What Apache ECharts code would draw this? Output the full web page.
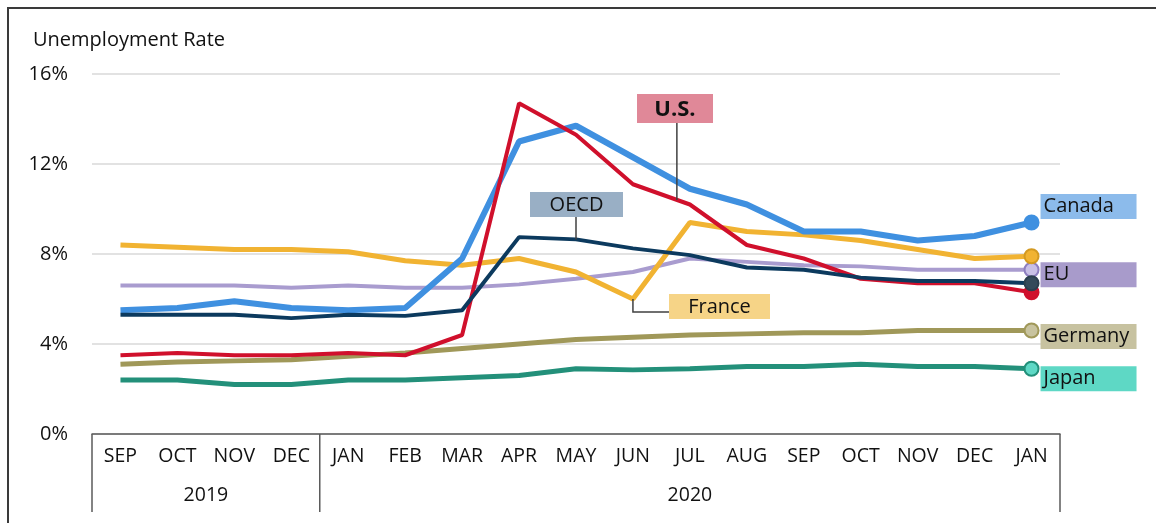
<!DOCTYPE html>
<html>
<head>
<meta charset="utf-8">
<script src="https://cdn.jsdelivr.net/npm/echarts@6/dist/echarts.min.js"></script>
<style>
  html, body { margin: 0; padding: 0; background: #fff; }
  #chart { width: 1156px; height: 523px; }
</style>
</head>
<body>
<div id="chart"></div>
<script>
// months Sep 2019 .. Jan 2021
const months = ['SEP', 'OCT', 'NOV', 'DEC', 'JAN', 'FEB', 'MAR', 'APR', 'MAY', 'JUN', 'JUL', 'AUG', 'SEP', 'OCT', 'NOV', 'DEC', 'JAN']
const years = ['2019', '2020']
const yearStarts = [0, 4]
const yTicks = [0, 4, 8, 12, 16]

const canada  = [5.5, 5.6, 5.9, 5.6, 5.5, 5.6, 7.8, 13.0, 13.7, 12.3, 10.9, 10.2, 9.0, 9.0, 8.6, 8.8, 9.4]
const us      = [3.5, 3.6, 3.5, 3.5, 3.6, 3.5, 4.4, 14.7, 13.3, 11.1, 10.2, 8.4, 7.8, 6.9, 6.7, 6.7, 6.3]
const oecd    = [5.3, 5.3, 5.3, 5.15, 5.3, 5.25, 5.5, 8.75, 8.65, 8.25, 7.95, 7.4, 7.3, 6.95, 6.8, 6.8, 6.7]
const france  = [8.4, 8.3, 8.2, 8.2, 8.1, 7.7, 7.5, 7.8, 7.2, 6.0, 9.4, 9.0, 8.85, 8.6, 8.2, 7.8, 7.9]
const eu      = [6.6, 6.6, 6.6, 6.5, 6.6, 6.5, 6.5, 6.65, 6.9, 7.2, 7.8, 7.65, 7.5, 7.45, 7.3, 7.3, 7.3]
const germany = [3.1, 3.2, 3.25, 3.3, 3.45, 3.6, 3.8, 4.0, 4.2, 4.3, 4.4, 4.45, 4.5, 4.5, 4.6, 4.6, 4.6]
const japan   = [2.4, 2.4, 2.2, 2.2, 2.4, 2.4, 2.5, 2.6, 2.9, 2.85, 2.9, 3.0, 3.0, 3.1, 3.0, 3.0, 2.9]

const FONT = 'Open Sans'
const TXT = '#111'
const last = months.length - 1

const chart = echarts.init(document.getElementById('chart'))

const makeSeries = (name, data, color, width, fill, border, labelBg, labelDy, showLabel) => ({
  name: name,
  type: 'line',
  data: data,
  symbol: 'circle',
  showSymbol: true,
  showAllSymbol: true,
  symbolSize: (v, p) => (p.dataIndex === last ? 14 : 0),
  itemStyle: { color: fill, borderColor: border, borderWidth: 2 },
  lineStyle: { color: color, width: width },
  emphasis: { disabled: true },
  endLabel: {
    show: showLabel,
    formatter: name,
    distance: 9,
    offset: [0, labelDy],
    fontFamily: FONT,
    fontSize: 20,
    color: TXT,
    backgroundColor: labelBg,
    width: 93,
    height: 25,
    lineHeight: 25,
    padding: [0, 0, 0, 3]
  }
})

const option = {
  animation: false,
  title: {
    text: 'Unemployment Rate',
    left: 28,
    top: 25,
    textStyle: { fontFamily: FONT, fontSize: 20, fontWeight: 'normal', color: TXT }
  },
  grid: { left: 92, right: 96, top: 74, bottom: 89 },
  xAxis: {
    type: 'category',
    data: months,
    boundaryGap: true,
    axisLine: { lineStyle: { color: '#5a5a5a', width: 1.5 } },
    axisTick: { show: false },
    axisLabel: { margin: 12, fontFamily: FONT, fontSize: 19.5, color: TXT }
  },
  yAxis: {
    type: 'value',
    min: yTicks[0],
    max: yTicks[yTicks.length - 1],
    interval: 4,
    axisLine: { show: false },
    axisTick: { show: false },
    splitLine: { lineStyle: { color: '#d9d9d9', width: 1.5 } },
    axisLabel: { margin: 24, fontFamily: FONT, fontSize: 20, color: TXT, formatter: '{value}%' }
  },
  series: [
    makeSeries('Japan', japan, '#23907a', 5, '#5ed8c5', '#23907a', '#5ed8c5', 10, true),
    makeSeries('Germany', germany, '#a09859', 5, '#c8c39f', '#a09859', '#c7c2a0', 6, true),
    makeSeries('EU', eu, '#a99ccf', 4, '#c9c0e6', '#8e7fc0', '#a89bcb', 5, true),
    makeSeries('France', france, '#f1b332', 5, '#f1b332', '#d39a22', '#f6d487', 0, false),
    makeSeries('Canada', canada, '#3f90e0', 6, '#3f90e0', '#3f90e0', '#8cbbeb', -16, true),
    makeSeries('U.S.', us, '#d0102c', 4, '#d0102c', '#d0102c', '#e08898', 0, false),
    makeSeries('OECD', oecd, '#0c3a5e', 4, '#344a5a', '#2b3f4e', '#99afc5', 0, false)
  ]
}

chart.setOption(option)

// frame, category dividers, year labels, callouts
const px = (i, v) => chart.convertToPixel({ xAxisIndex: 0, yAxisIndex: 0 }, [i, v])
const step = px(1, 0)[0] - px(0, 0)[0]
const axisY = px(0, 0)[1]
const edgeX = i => px(i, 0)[0] - step / 2
const bottomY = axisY + 78

const g = []
g.push({ type: 'rect', shape: { x: 8, y: 8, width: 1170, height: 540 }, style: { fill: null, stroke: '#3a3a3a', lineWidth: 2 }, silent: true })

const bounds = yearStarts.concat([months.length])
bounds.forEach(b => {
  g.push({ type: 'line', shape: { x1: edgeX(b), y1: axisY, x2: edgeX(b), y2: bottomY }, style: { stroke: '#5a5a5a', lineWidth: 1.5 } })
})
years.forEach((y, k) => {
  const cx = (edgeX(bounds[k]) + edgeX(bounds[k + 1])) / 2
  g.push({ type: 'text', x: cx, y: axisY + 61, style: { text: y, fontFamily: FONT, fontSize: 19.5, fill: TXT, align: 'center', verticalAlign: 'middle' } })
})

const box = (x, y, w, h, bg, text, bold) => {
  g.push({ type: 'rect', shape: { x: x, y: y, width: w, height: h }, style: { fill: bg }, z: 10 })
  g.push({ type: 'text', x: x + w / 2, y: y + h / 2 + 1, z: 11, style: { text: text, fontFamily: FONT, fontSize: bold ? 22 : 20, fontWeight: bold ? 'bold' : 'normal', fill: TXT, align: 'center', verticalAlign: 'middle' } })
}

// U.S. callout near JUL
const usPt = px(10, us[10])
const usPrev = px(9, us[9])
const usLx = usPt[0] - 13
const usLy = usPrev[1] + (usPt[1] - usPrev[1]) * ((usLx - usPrev[0]) / (usPt[0] - usPrev[0]))
g.push({ type: 'line', z: 9, shape: { x1: usLx, y1: 123, x2: usLx, y2: usLy }, style: { stroke: '#404040', lineWidth: 1.5 } })
box(637, 94, 76, 29, '#e08898', 'U.S.', true)

// OECD callout at MAY
const oePt = px(8, oecd[8])
g.push({ type: 'line', z: 9, shape: { x1: oePt[0], y1: 217, x2: oePt[0], y2: oePt[1] }, style: { stroke: '#404040', lineWidth: 1.5 } })
box(530, 192, 93, 25, '#99afc5', 'OECD', false)

// France callout at JUN
const frPt = px(9, france[9])
g.push({ type: 'polyline', z: 9, shape: { points: [[frPt[0], frPt[1]], [frPt[0], 312], [669, 312]] }, style: { stroke: '#404040', lineWidth: 1.5, fill: null } })
box(669, 294, 101, 25, '#f6d487', 'France', false)

chart.setOption({ graphic: g })
</script>
</body>
</html>
